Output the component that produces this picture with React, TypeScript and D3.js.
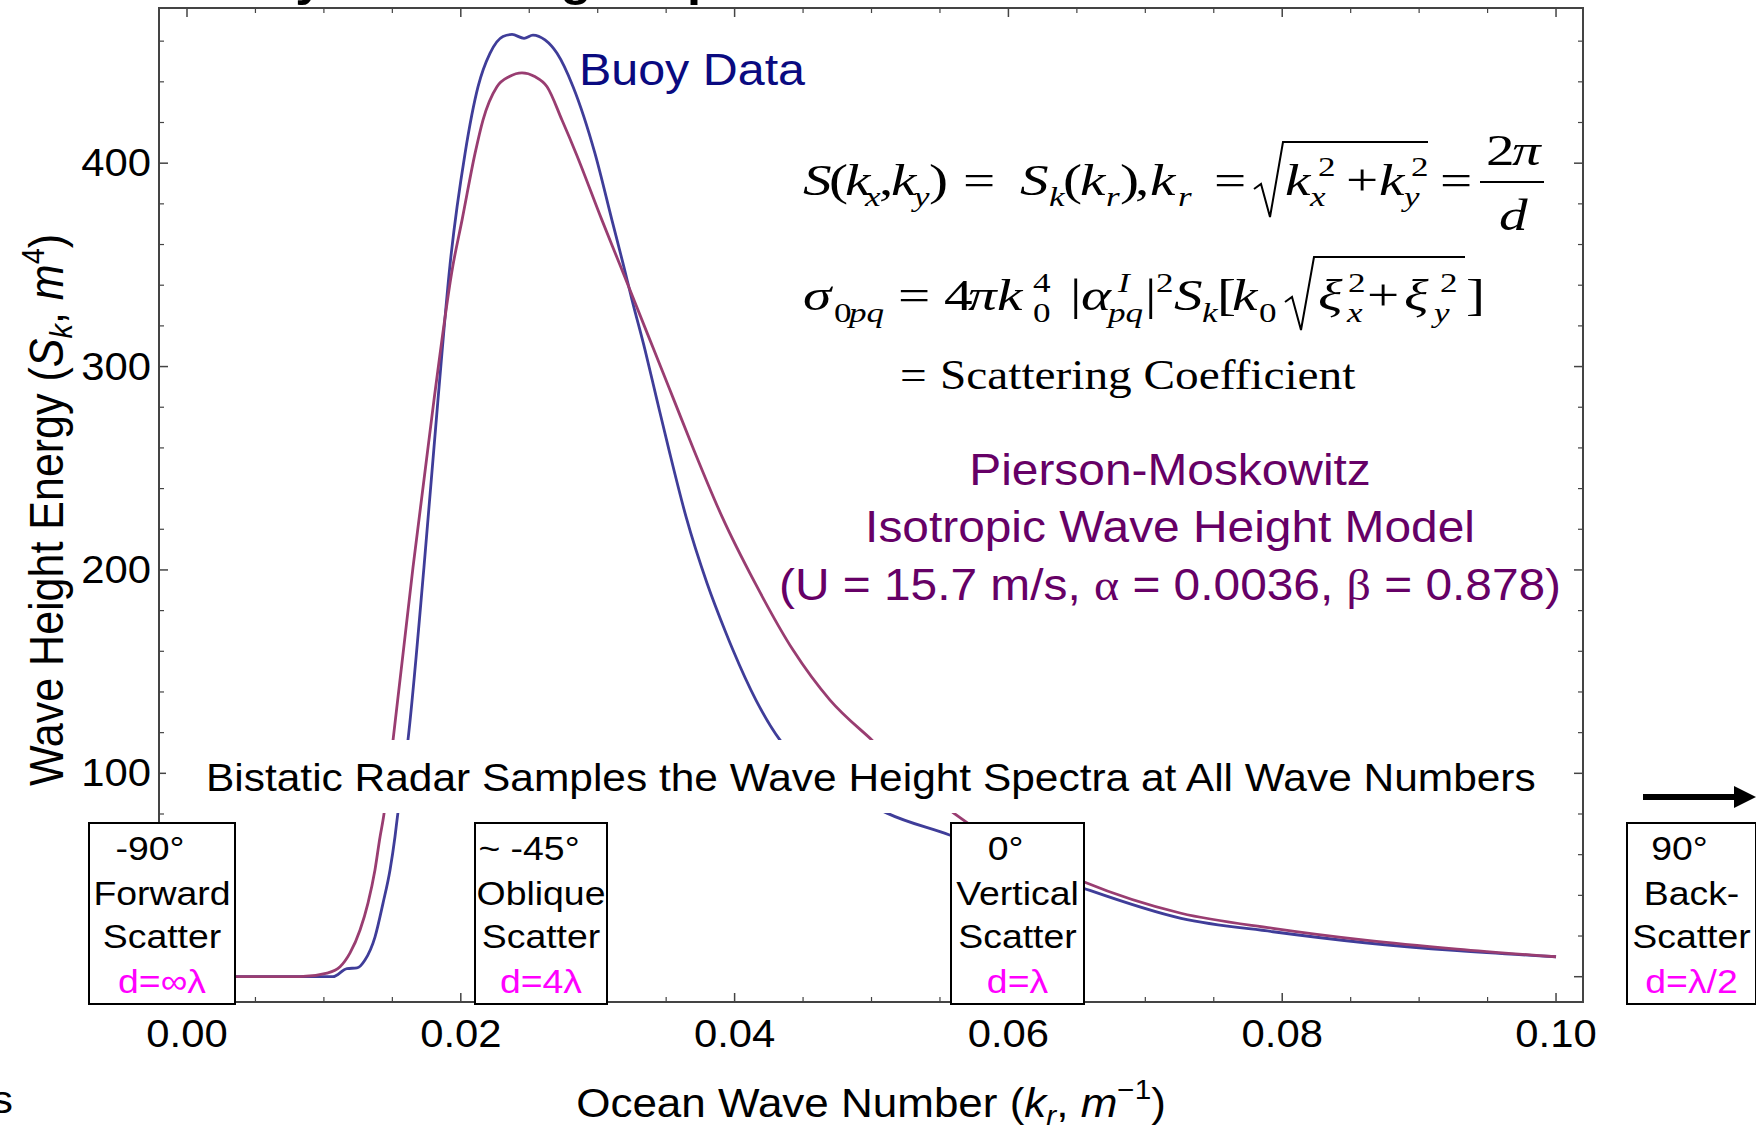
import React from "react";
import * as d3 from "d3";

// ---------- data ----------
const buoyK = [0, 0.005, 0.01066, 0.01169, 0.01242, 0.013, 0.01373, 0.01432, 0.01483, 0.01519, 0.01534, 0.01614, 0.01731, 0.01833, 0.01921, 0.02031, 0.02126, 0.02213, 0.02308, 0.02374, 0.02462, 0.02527, 0.02615, 0.02703, 0.0282, 0.0298, 0.03104, 0.03188, 0.03251, 0.03346, 0.03433, 0.03521, 0.03645, 0.03798, 0.03937, 0.03988, 0.04156, 0.04332, 0.05117, 0.0557, 0.06549, 0.07261, 0.07933, 0.08605, 0.09277, 0.1];
const buoyS = [0, 0, 0, 4.0, 4.3, 8.2, 19.5, 36.2, 52.5, 68.7, 77.0, 116.3, 201.4, 283.5, 349.9, 404.8, 437.6, 454.0, 462.3, 463.3, 461.4, 463.0, 460.6, 454.0, 437.6, 404.8, 372.0, 349.9, 332.7, 308.1, 283.5, 258.9, 226.2, 193.6, 169.0, 160.6, 136.0, 116.3, 80.3, 69.7, 43.5, 28.7, 22.1, 16.7, 12.8, 9.8];

const modelK = [0, 0.005, 0.00825, 0.01023, 0.01118, 0.01191, 0.01264, 0.01322, 0.01373, 0.0141, 0.01432, 0.01505, 0.01651, 0.01804, 0.01943, 0.02009, 0.02104, 0.02162, 0.02264, 0.02355, 0.02447, 0.0254, 0.0263, 0.02739, 0.02842, 0.03031, 0.03163, 0.03265, 0.03411, 0.03557, 0.03703, 0.03908, 0.04149, 0.04427, 0.04697, 0.05004, 0.05603, 0.06549, 0.07261, 0.07933, 0.08605, 0.09277, 0.1];
const modelS = [0, 0, 0, 1.8, 4.9, 11.7, 23.0, 36.2, 52.5, 68.7, 77.0, 116.3, 201.4, 283.5, 349.9, 372.0, 404.8, 421.2, 437.6, 442.6, 444.4, 442.6, 437.6, 421.2, 404.8, 372.0, 349.9, 332.7, 308.1, 283.5, 258.9, 226.2, 193.6, 160.6, 136.0, 116.3, 80.3, 46.7, 31.2, 23.8, 18.0, 13.6, 9.8];

const xTicks = [0, 0.02, 0.04, 0.06, 0.08, 0.1];
const xTickLabels = ["0.00", "0.02", "0.04", "0.06", "0.08", "0.10"];
const yTicks = [0, 100, 200, 300, 400];
const yTickLabels = ["", "100", "200", "300", "400"];

const boxAngles = ["-90°", "~ -45°", "0°", "90°"];
const boxWords1 = ["Forward", "Oblique", "Vertical", "Back-"];
const boxWords2 = ["Scatter", "Scatter", "Scatter", "Scatter"];
const boxSpacing = ["d=∞λ", "d=4λ", "d=λ", "d=λ/2"];

const modelLines = ["Pierson-Moskowitz", "Isotropic Wave Height Model"];

// ---------- style ----------
const SANS = "'Liberation Sans', Arial, Helvetica, sans-serif";
const SERIF = "'Liberation Serif', 'Times New Roman', serif";
const SX = 1.1;
const SX_EQ = 1.3;
const BLUE = "#3f3d99";
const RED = "#993d71";
const NAVY = "#0a0a80";
const PURPLE = "#660066";
const MAGENTA = "#ff00ff";
const FRAME = "#444444";

type TProps = {
  x: number; y: number; size: number; fill?: string; anchor?: string; sx?: number;
  family?: string; italic?: boolean; weight?: string | number; children?: React.ReactNode;
};
function T({ x, y, size, fill = "#000", anchor = "start", family = SANS, italic, weight, sx = SX, children }: TProps) {
  return (
    <text
      transform={`translate(${x},${y}) scale(${sx},1)`}
      fontSize={size}
      fill={fill}
      textAnchor={anchor as any}
      fontFamily={family}
      fontStyle={italic ? "italic" : "normal"}
      fontWeight={weight as any}
    >
      {children}
    </text>
  );
}

type Piece = [string, number, number, boolean?, boolean?];
function Eq({ pieces }: { pieces: Piece[] }) {
  return (
    <g>
      {pieces.map(([t, px, py, it, small], i) => (
        <T key={i} x={px} y={py} size={small ? 27 : 44} family={SERIF} italic={!!it} sx={SX_EQ}>
          {t}
        </T>
      ))}
    </g>
  );
}

export default function App() {
  const x = d3.scaleLinear().domain([-0.002045, 0.10197]).range([159, 1583]);
  const y = d3.scaleLinear().domain([-12.44, 476.3]).range([1002, 8]);
  const line = d3
    .line<[number, number]>()
    .x((d) => x(d[0]))
    .y((d) => y(d[1]))
    .curve(d3.curveMonotoneX);

  const buoy: [number, number][] = buoyK.map((k, i) => [k, buoyS[i]]);
  const model: [number, number][] = modelK.map((k, i) => [k, modelS[i]]);

  const xMinor = d3.range(0, 0.1001, 0.005).filter((v) => Math.abs(v / 0.02 - Math.round(v / 0.02)) > 1e-6);
  const yMinor = d3.range(0, 470, 20).filter((v) => v % 100 !== 0);

  const left = x.range()[0], right = x.range()[1];
  const bottom = y.range()[0], top = y.range()[1];

  // equation 1
  const m1 = 195, b1 = 206, p1 = 176;
  const eq1: Piece[] = [
    ["S", 803, m1, true], ["(", 829, m1], ["k", 845, m1, true], ["x", 865, b1, true, true], [",", 879, m1],
    ["k", 891, m1, true], ["y", 914, b1, true, true], [")", 929, m1], ["=", 963, m1],
    ["S", 1020, m1, true], ["k", 1049, b1, true, true], ["(", 1063, m1], ["k", 1080, m1, true], ["r", 1106, b1, true, true],
    [")", 1120, m1], [",", 1135, m1], ["k", 1150, m1, true], ["r", 1178, b1, true, true], ["=", 1214, m1],
    ["k", 1285, m1, true], ["2", 1318, p1, false, true], ["x", 1310, b1, true, true], ["+", 1346, m1],
    ["k", 1379, m1, true], ["2", 1411, p1, false, true], ["y", 1404, b1, true, true], ["=", 1440, m1],
    ["2", 1486, 165], ["π", 1512, 165, true], ["d", 1499, 230, true],
  ];
  const m2 = 310, b2 = 322, p2 = 292;
  const eq2: Piece[] = [
    ["σ", 803, m2, true], ["0", 834, b2, false, true], ["pq", 849, b2, true, true], ["=", 898, m2],
    ["4", 944, m2], ["π", 968, m2, true], ["k", 997, m2, true], ["4", 1033, p2, false, true], ["0", 1033, b2, false, true],
    ["|", 1070, m2], ["α", 1081, m2, true], ["I", 1118, p2, true, true], ["pq", 1108, b2, true, true], ["|", 1145, m2],
    ["2", 1156, p2, false, true], ["S", 1174, m2, true], ["k", 1202, b2, true, true], ["[", 1217, m2],
    ["k", 1232, m2, true], ["0", 1259, b2, false, true],
    ["ξ", 1318, m2, true], ["2", 1348, p2, false, true], ["x", 1347, b2, true, true], ["+", 1367, m2],
    ["ξ", 1404, m2, true], ["2", 1440, p2, false, true], ["y", 1434, b2, true, true], ["]", 1466, m2],
  ];

  const boxX = [89, 475, 951, 1627];
  const boxW = [146, 132, 133, 129];

  return (
    <svg
      width={1756}
      height={1127}
      viewBox="0 0 1756 1127"
      style={{ position: "absolute", left: 0, top: 0, background: "#fff" }}
    >
      <rect x={0} y={0} width={1756} height={1127} fill="#fff" />

      {/* cut-off title */}
      <T x={197} y={-5} size={46} weight="bold">Buoy Wave Height Spectrum</T>

      {/* curves */}
      <path d={line(buoy) || ""} fill="none" stroke={BLUE} strokeWidth={2.8} />
      <path d={line(model) || ""} fill="none" stroke={RED} strokeWidth={2.8} />

      {/* frame */}
      <rect x={left} y={top} width={right - left} height={bottom - top} fill="none" stroke={FRAME} strokeWidth={2} />
      {xTicks.map((v, i) => (
        <g key={"xt" + i}>
          <line x1={x(v)} x2={x(v)} y1={bottom} y2={bottom - 9} stroke={FRAME} strokeWidth={1.5} />
          <line x1={x(v)} x2={x(v)} y1={top} y2={top + 9} stroke={FRAME} strokeWidth={1.5} />
          <T x={x(v)} y={1047} size={38} anchor="middle">{xTickLabels[i]}</T>
        </g>
      ))}
      {xMinor.map((v, i) => (
        <g key={"xm" + i}>
          <line x1={x(v)} x2={x(v)} y1={bottom} y2={bottom - 5} stroke={FRAME} strokeWidth={1.2} />
          <line x1={x(v)} x2={x(v)} y1={top} y2={top + 5} stroke={FRAME} strokeWidth={1.2} />
        </g>
      ))}
      {yTicks.map((v, i) => (
        <g key={"yt" + i}>
          <line x1={left} x2={left + 9} y1={y(v)} y2={y(v)} stroke={FRAME} strokeWidth={1.5} />
          <line x1={right} x2={right - 9} y1={y(v)} y2={y(v)} stroke={FRAME} strokeWidth={1.5} />
          {yTickLabels[i] ? (
            <T x={151} y={y(v) + 13} size={38} anchor="end">{yTickLabels[i]}</T>
          ) : null}
        </g>
      ))}
      {yMinor.map((v, i) => (
        <g key={"ym" + i}>
          <line x1={left} x2={left + 5} y1={y(v)} y2={y(v)} stroke={FRAME} strokeWidth={1.2} />
          <line x1={right} x2={right - 5} y1={y(v)} y2={y(v)} stroke={FRAME} strokeWidth={1.2} />
        </g>
      ))}

      {/* axis titles */}
      <text
        transform={`translate(63,510) scale(${SX},1) rotate(-90)`}
        fontSize={43}
        fontFamily={SANS}
        textAnchor="middle"
        fill="#000"
      >
        {"Wave Height Energy ("}
        <tspan fontStyle="italic">S</tspan>
        <tspan fontStyle="italic" fontSize={29} dy={8}>k</tspan>
        <tspan dy={-8}>{", "}</tspan>
        <tspan fontStyle="italic">m</tspan>
        <tspan fontSize={29} dy={-17}>4</tspan>
        <tspan dy={17}>)</tspan>
      </text>
      <T x={871} y={1117} size={40} anchor="middle">
        {"Ocean Wave Number ("}
        <tspan fontStyle="italic">k</tspan>
        <tspan fontStyle="italic" fontSize={27} dy={8}>r</tspan>
        <tspan dy={-8}>{", "}</tspan>
        <tspan fontStyle="italic">m</tspan>
        <tspan fontSize={27} dy={-18}>−1</tspan>
        <tspan dy={18}>)</tspan>
      </T>
      <T x={13} y={1113} size={39} anchor="end">Angles</T>

      {/* Buoy label */}
      <T x={579} y={85} size={44} fill={NAVY}>Buoy Data</T>

      {/* equations */}
      <Eq pieces={eq1} />
      <path d="M1254,189 L1261,184 L1270,217 L1283,142 L1428,142" fill="none" stroke="#000" strokeWidth={2} />
      <line x1={1480} x2={1544} y1={182} y2={182} stroke="#000" strokeWidth={2} />
      <Eq pieces={eq2} />
      <path d="M1285,302 L1292,297 L1301,330 L1314,257 L1465,257" fill="none" stroke="#000" strokeWidth={2} />
      <T x={900} y={389} size={43} family={SERIF}>=</T>
      <T x={940} y={389} size={43} family={SERIF}>Scattering Coefficient</T>

      {/* model text */}
      <T x={1170} y={485} size={43.5} fill={PURPLE} anchor="middle">{modelLines[0]}</T>
      <T x={1170} y={542} size={43.5} fill={PURPLE} anchor="middle">{modelLines[1]}</T>
      <T x={1170} y={600} size={43.5} fill={PURPLE} anchor="middle">
        {"(U = 15.7 m/s, "}
        <tspan fontFamily={SERIF}>α</tspan>
        {" = 0.0036, "}
        <tspan fontFamily={SERIF}>β</tspan>
        {" = 0.878)"}
      </T>

      {/* bistatic banner */}
      <rect x={166} y={740} width={1408} height={73} fill="#fff" />
      <T x={206} y={791} size={38.6}>Bistatic Radar Samples the Wave Height Spectra at All Wave Numbers</T>

      {/* arrow */}
      <line x1={1643} x2={1738} y1={797} y2={797} stroke="#000" strokeWidth={6} />
      <polygon points="1734,786 1756,797 1734,808" fill="#000" />

      {/* angle boxes */}
      {boxAngles.map((a, i) => {
        const bx = boxX[i], bw = boxW[i], cx = bx + bw / 2;
        return (
          <g key={"box" + i}>
            <rect x={bx} y={823} width={bw} height={181} fill="#fff" stroke="#000" strokeWidth={2} />
            <T x={cx - 12} y={860} size={34} anchor="middle">{a}</T>
            <T x={cx} y={905} size={34} anchor="middle">{boxWords1[i]}</T>
            <T x={cx} y={948} size={34} anchor="middle">{boxWords2[i]}</T>
            <T x={cx} y={993} size={34} anchor="middle" fill={MAGENTA}>{boxSpacing[i]}</T>
          </g>
        );
      })}
    </svg>
  );
}
